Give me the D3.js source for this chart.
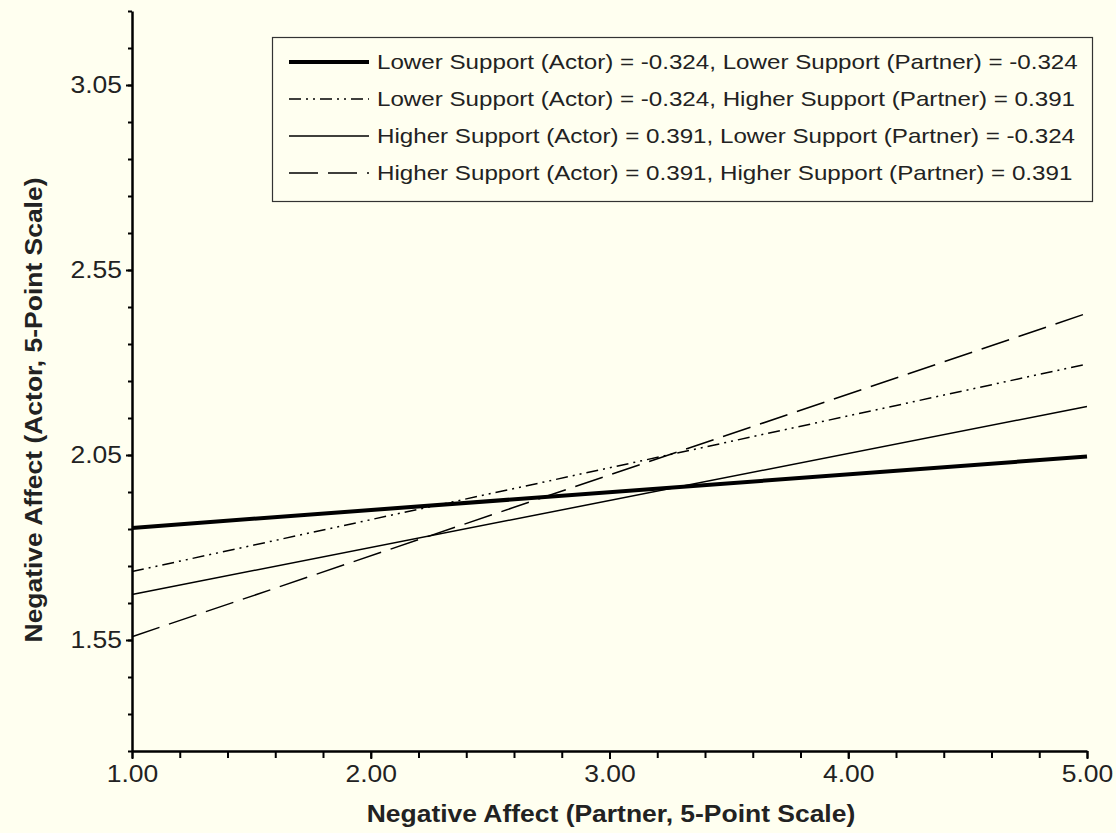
<!DOCTYPE html>
<html>
<head>
<meta charset="utf-8">
<script src="https://cdn.jsdelivr.net/npm/d3@7/dist/d3.min.js"></script>
<style>
  body { margin: 0; background: #fffff0; }
  svg { display: block; font-family: "Liberation Sans", Arial, sans-serif; }
</style>
</head>
<body>
<div id="chart"></div>
<script>
// data
const xValues = [1, 5];
const seriesLabels = [
    "Lower Support (Actor) = -0.324, Lower Support (Partner) = -0.324",
    "Lower Support (Actor) = -0.324, Higher Support (Partner) = 0.391",
    "Higher Support (Actor) = 0.391, Lower Support (Partner) = -0.324",
    "Higher Support (Actor) = 0.391, Higher Support (Partner) = 0.391"
];
const lowLowValues = [1.853, 2.046];
const lowHighValues = [1.735, 2.296];
const highLowValues = [1.673, 2.181];
const highHighValues = [1.559, 2.433];
const xTickValues = [1, 2, 3, 4, 5];
const yTickValues = [1.55, 2.05, 2.55, 3.05];

const series = [
    {label: seriesLabels[0], values: lowLowValues, width: 4, dash: null},
    {label: seriesLabels[1], values: lowHighValues, width: 1.5, dash: "12,5,2,5,2,5"},
    {label: seriesLabels[2], values: highLowValues, width: 1.5, dash: null},
    {label: seriesLabels[3], values: highHighValues, width: 1.5, dash: "29,10"}
];

// the reference font runs wider than Liberation Sans, so stretch text a bit
const stretch = 1.15;
function widen(sel) {
    sel.each(function() {
        const w = this.getComputedTextLength();
        d3.select(this)
            .attr("textLength", w * stretch)
            .attr("lengthAdjust", "spacingAndGlyphs");
    });
}

const outerWidth = 1116, outerHeight = 833;
const margin = {top: 11, right: 29, bottom: 82, left: 132};
const width = outerWidth - margin.left - margin.right;
const height = outerHeight - margin.top - margin.bottom;

const svg = d3.select("#chart")
    .append("svg")
    .attr("width", outerWidth)
    .attr("height", outerHeight);

svg.append("rect")
    .attr("width", outerWidth)
    .attr("height", outerHeight)
    .attr("fill", "#fffff0");

const g = svg.append("g")
    .attr("transform", `translate(${margin.left}, ${margin.top})`);

const xScale = d3.scaleLinear().domain([1, 5]).range([0, width]);
const yScale = d3.scaleLinear().domain([1.25, 3.25]).range([height, 0]);

// minor ticks
const xMinor = d3.range(1, 5.001, 0.2);
const yMinor = d3.range(1.25, 3.251, 0.1);

g.append("g")
    .attr("class", "x minor")
    .attr("transform", `translate(0, ${height})`)
    .call(d3.axisBottom(xScale).tickValues(xMinor).tickSize(7).tickFormat(""))
    .call(a => a.select(".domain").remove());

g.append("g")
    .attr("class", "y minor")
    .call(d3.axisLeft(yScale).tickValues(yMinor).tickSize(4).tickFormat(""))
    .call(a => a.select(".domain").remove());

g.append("g")
    .attr("class", "x axis")
    .attr("transform", `translate(0, ${height})`)
    .call(d3.axisBottom(xScale).tickValues(xTickValues).tickSize(8).tickSizeOuter(0).tickPadding(7).tickFormat(d3.format(".2f")));

g.append("g")
    .attr("class", "y axis")
    .call(d3.axisLeft(yScale).tickValues(yTickValues).tickSize(6).tickSizeOuter(0).tickPadding(4).tickFormat(d3.format(".2f")));

svg.selectAll(".tick line").attr("stroke", "#000").attr("stroke-width", 2);
svg.selectAll(".domain").attr("stroke", "#000").attr("stroke-width", 2.5);
svg.selectAll(".axis text")
    .attr("font-size", 23)
    .attr("fill", "#222")
    .attr("font-family", "'Liberation Sans', Arial, sans-serif")
    .call(widen);

// lines
const line = d3.line()
    .x((d, i) => xScale(xValues[i]))
    .y(d => yScale(d));

g.selectAll(".series")
    .data(series)
    .join("path")
    .attr("class", "series")
    .attr("d", d => line(d.values))
    .attr("fill", "none")
    .attr("stroke", "#000")
    .attr("stroke-width", d => d.width)
    .attr("stroke-dasharray", d => d.dash);

// axis titles
svg.append("text")
    .attr("x", 611)
    .attr("y", 822)
    .attr("text-anchor", "middle")
    .attr("font-size", 23)
    .attr("font-weight", "bold")
    .attr("fill", "#222")
    .text("Negative Affect (Partner, 5-Point Scale)")
    .call(widen);

svg.append("text")
    .attr("transform", "translate(42, 410) rotate(-90)")
    .attr("text-anchor", "middle")
    .attr("font-size", 23)
    .attr("font-weight", "bold")
    .attr("fill", "#222")
    .text("Negative Affect (Actor, 5-Point Scale)")
    .call(widen);

// legend
const legend = svg.append("g").attr("class", "legend");
legend.append("rect")
    .attr("x", 272.5)
    .attr("y", 37.5)
    .attr("width", 820)
    .attr("height", 164)
    .attr("fill", "#fffff0")
    .attr("stroke", "#333")
    .attr("stroke-width", 1.2);

const rows = legend.selectAll(".row")
    .data(series)
    .join("g")
    .attr("class", "row")
    .attr("transform", (d, i) => `translate(289, ${62 + i * 37})`);

rows.append("line")
    .attr("x1", 0)
    .attr("x2", 80)
    .attr("stroke", "#000")
    .attr("stroke-width", d => d.width)
    .attr("stroke-dasharray", d => d.dash);

rows.append("text")
    .attr("x", 88)
    .attr("dy", "0.35em")
    .attr("font-size", 21)
    .attr("fill", "#222")
    .text(d => d.label)
    .call(widen);
</script>
</body>
</html>
